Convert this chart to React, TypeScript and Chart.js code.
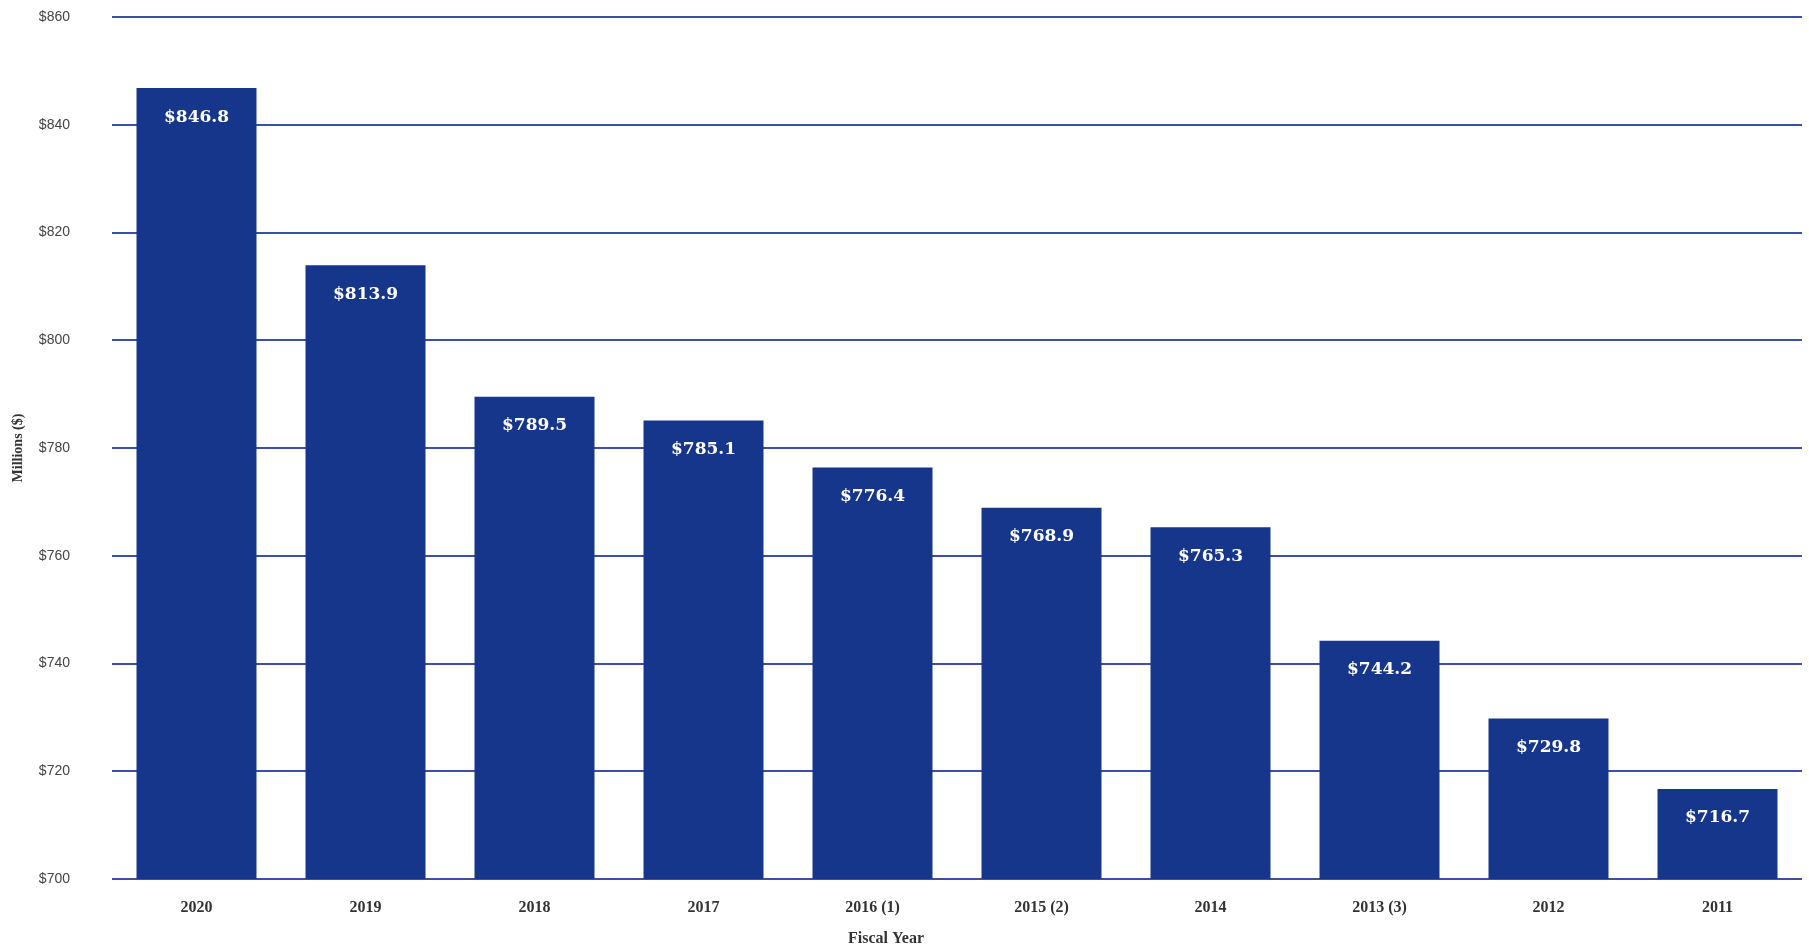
import React, { useEffect, useRef } from "react";
import { Chart, registerables } from "chart.js";

Chart.register(...registerables);

const categories = ["2020", "2019", "2018", "2017", "2016 (1)", "2015 (2)", "2014", "2013 (3)", "2012", "2011"];
const values = [846.8, 813.9, 789.5, 785.1, 776.4, 768.9, 765.3, 744.2, 729.8, 716.7];
const valueLabels = ["$846.8", "$813.9", "$789.5", "$785.1", "$776.4", "$768.9", "$765.3", "$744.2", "$729.8", "$716.7"];
const yMin = 700;
const yMax = 860;
const yStep = 20;
const yTitle = "Millions ($)";
const xTitle = "Fiscal Year";

const BAR = "#16368c";
const GRID = "#3d4ea6";

const labelPlugin = {
  id: "barLabels",
  afterDatasetsDraw(chart: any) {
    const ctx = chart.ctx;
    const meta = chart.getDatasetMeta(0);
    ctx.save();
    ctx.fillStyle = "#ffffff";
    ctx.font = "bold 17px 'DejaVu Serif'";
    ctx.textAlign = "center";
    ctx.textBaseline = "middle";
    meta.data.forEach((bar: any, i: number) => {
      ctx.fillText(valueLabels[i], bar.x, bar.y + 29);
    });
    ctx.restore();
  },
};

const xTitlePlugin = {
  id: "xTitle",
  afterDraw(chart: any) {
    const ctx = chart.ctx;
    const a = chart.chartArea;
    ctx.save();
    ctx.fillStyle = "#333333";
    ctx.font = "bold 16px 'Liberation Serif'";
    ctx.textAlign = "center";
    ctx.textBaseline = "middle";
    ctx.fillText(xTitle, a.left + a.width * 0.458, 939);
    ctx.restore();
  },
};

export default function App() {
  const ref = useRef<HTMLCanvasElement | null>(null);
  useEffect(() => {
    if (!ref.current) return;
    const chart = new Chart(ref.current, {
      type: "bar",
      data: {
        labels: categories,
        datasets: [
          {
            data: values,
            backgroundColor: BAR,
            borderWidth: 0,
            categoryPercentage: 1,
            barPercentage: 0.71,
          },
        ],
      },
      options: {
        animation: false,
        responsive: true,
        maintainAspectRatio: false,
        layout: { padding: { left: 10, right: 7, top: 17, bottom: 5 } },
        plugins: { legend: { display: false }, tooltip: { enabled: false }, title: { display: false } },
        scales: {
          x: {
            grid: { display: false },
            border: { display: false },
            ticks: {
              color: "#333333",
              font: { family: "'Liberation Serif'", size: 16, weight: "bold" },
              padding: 11,
              maxRotation: 0,
            },
            afterFit: (s: any) => {
              s.height = 67;
            },
          },
          y: {
            min: yMin,
            max: yMax,
            grid: { color: GRID, lineWidth: 2, drawTicks: true, tickLength: 42, tickColor: "rgba(0,0,0,0)" },
            border: { display: false },
            ticks: {
              stepSize: yStep,
              padding: 0,
              color: "#444444",
              font: { family: "'Liberation Sans'", size: 14 },
              callback: (v: any) => "$" + v,
            },
            title: {
              display: true,
              text: yTitle,
              color: "#333333",
              font: { family: "'Liberation Serif'", size: 14, weight: "bold" },
              padding: 0,
            },
            afterFit: (s: any) => {
              s.width = 102;
            },
          },
        },
      },
      plugins: [labelPlugin, xTitlePlugin],
    });
    return () => chart.destroy();
  }, []);
  return (
    <div style={{ position: "fixed", left: 0, top: 0, width: 1809, height: 951, background: "#ffffff" }}>
      <canvas ref={ref} />
    </div>
  );
}
